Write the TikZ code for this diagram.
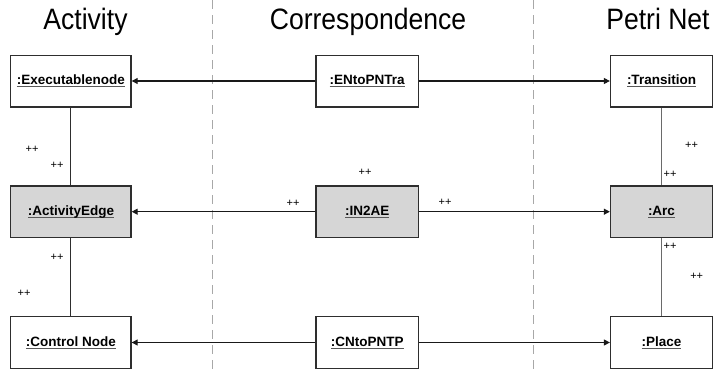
\documentclass[tikz,border=0pt]{standalone}
\usepackage{fontspec}
\setmainfont{Liberation Sans}
\usepackage{graphicx}
\usetikzlibrary{arrows.meta}
\definecolor{boxline}{HTML}{2E2E2E}
\definecolor{shade}{HTML}{D6D6D6}
\definecolor{dashgray}{HTML}{A8A8A8}
\definecolor{linkgray}{HTML}{6A6A6A}
\newcommand{\ulbox}[1]{\setbox0\hbox{#1}\rlap{\textcolor{boxline!80}{\rule[-2.4pt]{\wd0}{0.9pt}}}\box0}
\tikzset{
  objbox/.style={draw=boxline, line width=1.3pt, fill=white, minimum height=51.7pt,
    inner sep=0pt, font=\bfseries\fontsize{13.5}{15}\selectfont},
  shadedbox/.style={objbox, fill=shade},
  title/.style={anchor=base, inner sep=0pt, font=\fontsize{29.5}{32}\selectfont},
  mult/.style={inner sep=0pt, font=\fontsize{11}{12}\selectfont},
  swim/.style={dashgray, line width=1.2pt, dash pattern=on 9pt off 6pt},
  link/.style={draw=black!90, line width=1.2pt, -{Triangle[length=6pt,width=6pt]}},
  tie/.style={line width=1pt}
}
\begin{document}
\begin{tikzpicture}[x=1pt,y=-1pt]
\useasboundingbox (0,0) rectangle (726,372);
% swimlane separators
\coordinate (s1t) at (212.7,0); \coordinate (s1b) at (212.7,372);
\coordinate (s2t) at (533.3,0); \coordinate (s2b) at (533.3,372);
\draw[swim] (s1t) -- (s1b);
\draw[swim] (s2t) -- (s2b);
% titles
\node[title] (tA) at (85.5,30) {\scalebox{0.9}[1]{Activity}};
\node[title] (tC) at (368,30) {\scalebox{0.9}[1]{Correspondence}};
\node[title] (tP) at (658,30) {\scalebox{0.9}[1]{Petri Net}};
% boxes
\node[objbox, minimum width=120.3pt] (exe) at (70.9,81) {\ulbox{:Executablenode}};
\node[objbox, minimum width=102.5pt] (ent) at (367.2,81) {\ulbox{:ENtoPNTra}};
\node[objbox, minimum width=102pt] (tra) at (661.5,81) {\ulbox{:Transition}};
\node[shadedbox, minimum width=120.3pt] (ae) at (70.9,211.7) {\ulbox{:ActivityEdge}};
\node[shadedbox, minimum width=102.5pt] (in2) at (367.2,211.7) {\ulbox{:IN2AE}};
\node[shadedbox, minimum width=102pt] (arc) at (661.5,211.7) {\ulbox{:Arc}};
\node[objbox, minimum width=120.3pt] (cn) at (70.9,342.5) {\ulbox{:Control Node}};
\node[objbox, minimum width=102.5pt] (cnt) at (367.2,342.5) {\ulbox{:CNtoPNTP}};
\node[objbox, minimum width=102pt] (pl) at (661.5,342.5) {\ulbox{:Place}};
% correspondence links
\draw[link] (ent.west) -- (exe.east);
\draw[link] (ent.east) -- (tra.west);
\draw[link] (in2.west) -- (ae.east);
\draw[link] (in2.east) -- (arc.west);
\draw[link] (cnt.west) -- (cn.east);
\draw[link] (cnt.east) -- (pl.west);
% containment links
\draw[tie, boxline] (exe.south) -- (ae.north);
\draw[tie, boxline] (ae.south) -- (cn.north);
\draw[tie, linkgray] (tra.south) -- (arc.north);
\draw[tie, linkgray] (arc.south) -- (pl.north);
% multiplicities
\node[mult] (m1) at (32,149) {++};
\node[mult] (m2) at (57,165) {++};
\node[mult] (m3) at (57,257) {++};
\node[mult] (m4) at (24,293) {++};
\node[mult] (m5) at (365,172) {++};
\node[mult] (m6) at (293,203) {++};
\node[mult] (m7) at (445,202) {++};
\node[mult] (m8) at (691.5,145) {++};
\node[mult] (m9) at (670,174) {++};
\node[mult] (m10) at (670,246.7) {++};
\node[mult] (m11) at (696.7,276.7) {++};
\end{tikzpicture}
\end{document}
